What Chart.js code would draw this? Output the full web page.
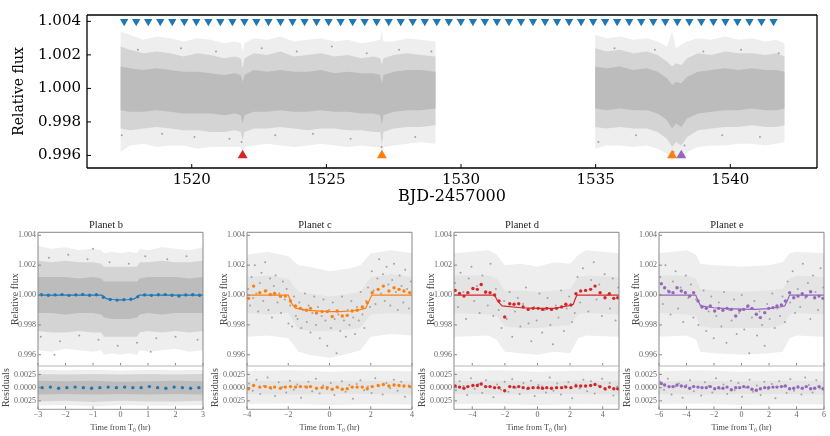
<!DOCTYPE html>
<html><head><meta charset="utf-8">
<script src="https://cdn.jsdelivr.net/npm/chart.js@4.4.1/dist/chart.umd.min.js"></script>
<style>
html,body{margin:0;padding:0;background:#fff;}
#wrap{position:relative;width:830px;height:436px;overflow:hidden;background:#fff;}
#wrap canvas{position:absolute;left:0;top:0;}
</style></head><body><div id="wrap">
<canvas id="cTop" width="830" height="436"></canvas>
<canvas id="cBm" width="830" height="436"></canvas><canvas id="cBr" width="830" height="436"></canvas>
<canvas id="cCm" width="830" height="436"></canvas><canvas id="cCr" width="830" height="436"></canvas>
<canvas id="cDm" width="830" height="436"></canvas><canvas id="cDr" width="830" height="436"></canvas>
<canvas id="cEm" width="830" height="436"></canvas><canvas id="cEr" width="830" height="436"></canvas>
</div>
<script>
// ---------------- DATA ----------------
const topXTicks = [1520,1525,1530,1535,1540];
const topYTicks = [0.996,0.998,1.000,1.002,1.004];
const transitsB = [1517.490,1517.937,1518.383,1518.830,1519.276,1519.723,1520.169,1520.616,1521.063,1521.509,1521.956,1522.402,1522.849,1523.295,1523.742,1524.189,1524.635,1525.082,1525.528,1525.975,1526.421,1526.868,1527.315,1527.761,1528.208,1528.654,1529.101,1529.547,1529.994,1530.441,1530.887,1531.334,1531.780,1532.227,1532.673,1533.120,1533.567,1534.013,1534.460,1534.906,1535.353,1535.799,1536.246,1536.693,1537.139,1537.586,1538.032,1538.479,1538.925,1539.372,1539.818,1540.265,1540.712,1541.158,1541.605];
const transitsC = [1527.06,1537.84];
const transitsD = [1521.89];
const transitsE = [1538.18];

// light-curve envelopes, orbit 1
const s1X = [1517.35,1517.7,1518.2,1518.7,1519.2,1519.7,1520.2,1520.7,1521.2,1521.6,1521.82,1521.89,1521.96,1522.3,1522.8,1523.3,1523.8,1524.3,1524.8,1525.3,1525.8,1526.3,1526.75,1527.0,1527.06,1527.12,1527.5,1528.0,1528.5,1529.06];
const s1HazeHi = [1.0034,1.0032,1.0029,1.0031,1.0030,1.0028,1.0030,1.0029,1.0027,1.0028,1.0027,1.0022,1.0027,1.0030,1.0029,1.0031,1.0028,1.0029,1.0030,1.0028,1.0029,1.0027,1.0028,1.0029,1.0035,1.0028,1.0028,1.0030,1.0029,1.0028];
const s1PtsHi = [1.0025,1.0023,1.0021,1.0022,1.0021,1.0019,1.0021,1.0020,1.0018,1.0019,1.0018,1.0012,1.0018,1.0021,1.0020,1.0022,1.0019,1.0020,1.0021,1.0019,1.0020,1.0018,1.0019,1.0018,1.0014,1.0018,1.0020,1.0021,1.0020,1.0019];
const s1CoreHi = [1.0013,1.0012,1.0011,1.0012,1.0011,1.0010,1.0010,1.0009,1.0008,1.0009,1.0008,1.0004,1.0008,1.0011,1.0010,1.0011,1.0010,1.0010,1.0011,1.0009,1.0010,1.0009,1.0009,1.0008,1.0003,1.0008,1.0010,1.0011,1.0011,1.0010];
const s1CoreLo = [0.9987,0.9986,0.9986,0.9987,0.9986,0.9985,0.9985,0.9985,0.9984,0.9985,0.9984,0.9979,0.9984,0.9986,0.9986,0.9987,0.9986,0.9986,0.9987,0.9986,0.9986,0.9985,0.9985,0.9984,0.9978,0.9984,0.9986,0.9987,0.9987,0.9988];
const s1PtsLo = [0.9976,0.9975,0.9976,0.9977,0.9976,0.9975,0.9975,0.9974,0.9974,0.9975,0.9974,0.9969,0.9974,0.9976,0.9976,0.9977,0.9976,0.9975,0.9976,0.9976,0.9975,0.9975,0.9974,0.9974,0.9966,0.9974,0.9976,0.9977,0.9977,0.9978];
const s1HazeLo = [0.9962,0.9966,0.9967,0.9965,0.9966,0.9966,0.9964,0.9965,0.9965,0.9965,0.9965,0.9961,0.9965,0.9966,0.9967,0.9966,0.9965,0.9966,0.9967,0.9966,0.9965,0.9966,0.9965,0.9965,0.9958,0.9965,0.9966,0.9967,0.9968,0.9967];
// orbit 2
const s2X = [1534.98,1535.4,1535.9,1536.4,1536.9,1537.3,1537.65,1537.84,1537.98,1538.18,1538.4,1538.8,1539.3,1539.8,1540.3,1540.8,1541.3,1541.7,1542.02];
const s2HazeHi = [1.0032,1.0030,1.0031,1.0029,1.0030,1.0028,1.0025,1.0034,1.0024,1.0026,1.0028,1.0030,1.0029,1.0031,1.0029,1.0030,1.0028,1.0029,1.0027];
const s2PtsHi = [1.0024,1.0022,1.0023,1.0021,1.0022,1.0020,1.0016,1.0013,1.0015,1.0014,1.0018,1.0021,1.0020,1.0022,1.0021,1.0021,1.0020,1.0021,1.0019];
const s2CoreHi = [1.0013,1.0012,1.0013,1.0011,1.0012,1.0010,1.0006,1.0002,1.0004,1.0003,1.0007,1.0010,1.0011,1.0012,1.0011,1.0012,1.0011,1.0011,1.0010];
const s2CoreLo = [0.9988,0.9987,0.9988,0.9987,0.9987,0.9985,0.9981,0.9976,0.9979,0.9977,0.9982,0.9985,0.9986,0.9987,0.9987,0.9988,0.9987,0.9987,0.9988];
const s2PtsLo = [0.9977,0.9976,0.9977,0.9976,0.9976,0.9974,0.9970,0.9965,0.9968,0.9966,0.9971,0.9975,0.9976,0.9977,0.9977,0.9978,0.9977,0.9977,0.9978];
const s2HazeLo = [0.9964,0.9966,0.9966,0.9965,0.9966,0.9964,0.9961,0.9957,0.9960,0.9958,0.9962,0.9965,0.9966,0.9966,0.9967,0.9967,0.9966,0.9967,0.9968];
const topOutliers = [[1517.4,0.9972],[1518.0,1.0023],[1518.9,0.9973],[1519.6,1.0024],[1520.1,0.9971],[1520.9,1.0022],[1521.4,0.9970],[1521.85,0.9968],[1522.6,1.0024],[1523.1,0.9972],[1523.9,1.0022],[1524.5,0.9973],[1525.2,1.0025],[1525.9,0.9970],[1526.5,1.0021],[1527.05,0.9965],[1527.7,1.0023],[1528.3,0.9971],[1528.9,1.0022],[1535.1,0.9968],[1535.7,1.0024],[1536.5,0.9972],[1537.2,1.0023],[1537.9,0.9962],[1538.3,0.9966],[1539.0,1.0022],[1539.7,0.9972],[1540.4,1.0023],[1541.1,0.9971],[1541.8,1.0021]];

// phase-folded panels
const mainYTicks = [0.996,0.998,1.000,1.002,1.004];
const resYTicks = [-0.0025,0,0.0025];
// planet b
const bXTicks = [-3,-2,-1,0,1,2,3];
const bT = [-3,-2.5,-2,-1.5,-1,-0.7,-0.6,-0.3,0,0.3,0.6,0.7,1,1.5,2,2.5,3];
const bHazeHi = [1.0033,1.0031,1.0032,1.0030,1.0031,1.0030,1.0028,1.0029,1.0028,1.0029,1.0028,1.0031,1.0030,1.0032,1.0031,1.0030,1.0032];
const bPtsHi = [1.0023,1.0022,1.0023,1.0022,1.0022,1.0021,1.0019,1.0019,1.0019,1.0019,1.0019,1.0022,1.0022,1.0023,1.0022,1.0022,1.0023];
const bCoreHi = [1.0012,1.0012,1.0012,1.0011,1.0012,1.0011,1.0009,1.0009,1.0009,1.0009,1.0009,1.0011,1.0012,1.0012,1.0012,1.0011,1.0012];
const bCoreLo = [0.9988,0.9988,0.9987,0.9988,0.9988,0.9987,0.9985,0.9984,0.9984,0.9984,0.9985,0.9987,0.9988,0.9987,0.9988,0.9988,0.9988];
const bPtsLo = [0.9976,0.9975,0.9975,0.9976,0.9975,0.9975,0.9972,0.9972,0.9972,0.9972,0.9972,0.9975,0.9976,0.9975,0.9976,0.9975,0.9976];
const bHazeLo = [0.9963,0.9962,0.9964,0.9963,0.9962,0.9963,0.9960,0.9961,0.9960,0.9961,0.9960,0.9963,0.9962,0.9963,0.9964,0.9962,0.9963];
const bOutliers = [[-2.9,0.9972],[-2.6,1.0025],[-2.2,0.9969],[-1.9,1.0027],[-1.5,0.9973],[-1.2,1.0024],[-0.8,0.9970],[-0.4,1.0022],[-0.1,0.9966],[0.3,1.0021],[0.6,0.9968],[0.9,1.0026],[1.3,0.9971],[1.7,1.0024],[2.0,0.9972],[2.4,1.0026],[2.8,0.9970],[-2.4,0.9960],[1.1,0.9962],[-1.0,1.0031]];
const bModT = [-3,-0.68,-0.5,-0.3,0,0.3,0.5,0.68,3];
const bModF = [1,1,0.99974,0.99970,0.99968,0.99970,0.99974,1,1];
const bBinT = [-2.875,-2.625,-2.375,-2.125,-1.875,-1.625,-1.375,-1.125,-0.875,-0.625,-0.375,-0.125,0.125,0.375,0.625,0.875,1.125,1.375,1.625,1.875,2.125,2.375,2.625,2.875];
const bBinF = [1.00002,0.99999,1.00001,1.00003,0.99998,1.00001,1.00004,0.99999,1.00002,0.99985,0.99970,0.99966,0.99969,0.99972,0.99988,1.00001,0.99998,1.00002,1.00003,0.99999,0.99994,1.00001,1.00002,0.99999];
const bRT = [-3,-2,-1,0,1,2,3];
const bRHazeHi = [0.0034,0.0033,0.0034,0.0032,0.0034,0.0033,0.0034];
const bRPtsHi = [0.0026,0.0025,0.0026,0.0025,0.0026,0.0025,0.0026];
const bRCoreHi = [0.0013,0.0012,0.0013,0.0011,0.0012,0.0013,0.0012];
const bRCoreLo = [-0.0013,-0.0012,-0.0013,-0.0012,-0.0013,-0.0012,-0.0013];
const bRPtsLo = [-0.0026,-0.0025,-0.0027,-0.0025,-0.0026,-0.0026,-0.0025];
const bRHazeLo = [-0.0034,-0.0033,-0.0035,-0.0033,-0.0034,-0.0034,-0.0033];
const bRBinT = [-2.85,-2.55,-2.25,-1.95,-1.65,-1.35,-1.05,-0.75,-0.45,-0.15,0.15,0.45,0.75,1.05,1.35,1.65,1.95,2.25,2.55,2.85];
const bRBinR = [0.0000,0.0001,-0.0001,0.0000,0.0001,0.0000,-0.0001,0.0000,0.0001,0.0000,0.0001,0.0000,0.0000,0.0002,0.0000,-0.0001,0.0001,0.0000,-0.0001,0.0000];

// planet c
const cXTicks = [-4,-2,0,2,4];
const cPts = [[-3.95,1.0004],[-3.85,0.9993],[-3.78,1.0012],[-3.70,0.9998],[-3.62,1.0020],[-3.55,1.0001],[-3.46,0.9989],[-3.38,1.0008],[-3.30,1.0015],[-3.21,0.9996],[-3.12,1.0022],[-3.05,1.0003],[-2.96,0.9990],[-2.88,1.0011],[-2.79,0.9985],[-2.70,1.0006],[-2.61,1.0013],[-2.52,0.9995],[-2.44,1.0001],[-2.35,0.9988],[-2.26,1.0009],[-2.17,0.9997],[-2.08,1.0004],[-1.99,0.9981],[-1.90,0.9993],[-1.81,0.9979],[-1.72,0.9999],[-1.63,0.9986],[-1.55,0.9984],[-1.46,0.9995],[-1.37,0.9978],[-1.28,0.9990],[-1.19,1.0001],[-1.10,0.9982],[-1.01,0.9993],[-0.92,0.9975],[-0.83,0.9988],[-0.74,0.9999],[-0.65,0.9980],[-0.56,0.9992],[-0.47,0.9971],[-0.38,0.9986],[-0.29,0.9997],[-0.20,0.9983],[-0.11,0.9966],[-0.02,0.9990],[0.07,0.9978],[0.16,0.9995],[0.25,0.9984],[0.34,0.9961],[0.43,0.9987],[0.52,0.9976],[0.61,0.9999],[0.70,0.9983],[0.79,0.9972],[0.88,0.9990],[0.97,0.9980],[1.06,0.9996],[1.15,0.9985],[1.24,0.9974],[1.33,0.9992],[1.42,0.9983],[1.51,1.0002],[1.60,0.9987],[1.69,0.9978],[1.78,0.9996],[1.87,1.0005],[1.96,0.9992],[2.05,1.0016],[2.14,1.0003],[2.23,0.9994],[2.32,1.0011],[2.41,1.0024],[2.50,1.0001],[2.59,1.0014],[2.68,0.9996],[2.77,1.0019],[2.86,1.0007],[2.95,0.9993],[3.04,1.0010],[3.13,1.0021],[3.22,1.0002],[3.31,0.9990],[3.40,1.0013],[3.49,1.0006],[3.58,0.9995],[3.67,1.0017],[3.76,1.0004],[3.85,0.9991],[3.94,1.0009]];
const cHT = [-4,-3,-2,-1.5,-1,0,1,1.5,2,3,4];
const cHazeHi = [1.0027,1.0029,1.0026,1.0020,1.0019,1.0016,1.0018,1.0020,1.0028,1.0030,1.0028];
const cHazeLo = [0.9972,0.9973,0.9971,0.9962,0.9960,0.9958,0.9961,0.9963,0.9972,0.9974,0.9973];
const cMidHi = [1.0012,1.0013,1.0011,1.0002,1.0001,0.9999,1.0001,1.0002,1.0012,1.0014,1.0012];
const cMidLo = [0.9988,0.9987,0.9988,0.9977,0.9976,0.9976,0.9977,0.9978,0.9987,0.9988,0.9987];
const cModT = [-4,-2.0,-1.85,-1.65,-1.0,0,0.5,1.0,1.5,1.75,1.9,2.05,4];
const cModF = [1,1,0.99945,0.99912,0.99898,0.99889,0.99889,0.99893,0.99902,0.99912,0.99955,1,1];
const cBinT = [-3.92,-3.68,-3.38,-3.11,-2.87,-2.66,-2.38,-2.14,-1.89,-1.65,-1.41,-1.12,-0.92,-0.63,-0.36,-0.11,0.13,0.37,0.62,0.86,1.1,1.34,1.59,1.83,2.07,2.36,2.61,2.88,3.13,3.37,3.61,3.89];
const cBinF = [0.99978,1.0006,1.00016,1.00027,1.00004,1.0001,0.99991,0.99993,0.9996,0.99927,0.99911,0.99898,0.99911,0.9988,0.99889,0.99889,0.99856,0.99893,0.9986,0.99864,0.99893,0.99898,0.9992,0.99949,1.00016,1.00038,1.0006,1.00027,1.00049,1.00038,1.00027,1.00016];
const cRes = [[-3.9,0.0008],[-3.72,-0.0006],[-3.54,0.0015],[-3.36,-0.0012],[-3.18,0.0003],[-3.0,0.0019],[-2.82,-0.0002],[-2.64,-0.0016],[-2.46,0.0010],[-2.28,0.0001],[-2.1,-0.0009],[-1.92,0.0013],[-1.74,-0.0004],[-1.56,0.0006],[-1.38,-0.0019],[-1.2,0.0002],[-1.02,0.0011],[-0.84,-0.0007],[-0.66,0.0017],[-0.48,-0.0011],[-0.3,0.0004],[-0.12,-0.0003],[0.06,0.0009],[0.24,-0.0014],[0.42,0.0000],[0.6,0.0012],[0.78,-0.0008],[0.96,0.0005],[1.14,-0.0021],[1.32,0.0007],[1.5,0.0014],[1.68,-0.0005],[1.86,0.0002],[2.04,-0.0010],[2.22,0.0018],[2.4,0.0003],[2.58,-0.0013],[2.76,0.0009],[2.94,-0.0001],[3.12,0.0015],[3.3,-0.0006],[3.48,0.0011],[3.66,-0.0017],[3.84,0.0004]];
const cRBinR = [-0.0002,0.0004,0.0001,0.0002,0.0000,0.0001,-0.0001,0.0001,0.0002,0.0001,0.0002,0.0001,0.0002,-0.0001,0.0000,0.0000,-0.0003,0.0001,-0.0003,-0.0002,0.0001,0.0001,0.0001,-0.0002,0.0002,0.0004,0.0006,0.0003,0.0005,0.0004,0.0003,0.0002];
const cRHT = [-4,-2,0,2,4];

// planet d
const dXTicks = [-4,-2,0,2,4];
const dPts = [[-5.05,1.0008],[-4.88,0.9992],[-4.72,1.0015],[-4.55,1.0002],[-4.38,0.9984],[-4.21,1.0011],[-4.05,1.0019],[-3.88,0.9996],[-3.71,1.0006],[-3.55,0.9988],[-3.38,1.0013],[-3.21,1.0001],[-3.05,0.9993],[-2.88,1.0021],[-2.71,0.9986],[-2.55,1.0004],[-2.38,0.9990],[-2.21,0.9978],[-2.05,0.9996],[-1.88,0.9984],[-1.71,1.0002],[-1.55,0.9972],[-1.38,0.9989],[-1.21,0.9998],[-1.05,0.9979],[-0.88,0.9994],[-0.71,1.0005],[-0.55,0.9981],[-0.38,0.9969],[-0.21,0.9992],[-0.05,0.9983],[0.12,1.0001],[0.29,0.9975],[0.45,0.9990],[0.62,0.9998],[0.79,0.9980],[0.95,0.9967],[1.12,0.9993],[1.29,0.9985],[1.45,1.0003],[1.62,0.9976],[1.79,0.9991],[1.95,0.9999],[2.12,0.9982],[2.29,0.9988],[2.45,1.0012],[2.62,0.9995],[2.79,1.0018],[2.95,1.0003],[3.12,0.9989],[3.29,1.0010],[3.45,1.0022],[3.62,0.9997],[3.79,1.0007],[3.95,0.9986],[4.12,1.0014],[4.29,1.0000],[4.45,0.9991],[4.62,1.0011],[4.79,0.9983],[4.95,1.0005]];
const dHT = [-5.12,-3,-2.5,-2,-1,0,1,2,2.5,3,5];
const dHazeHi = [1.0028,1.0030,1.0027,1.0020,1.0021,1.0019,1.0022,1.0021,1.0027,1.0030,1.0028];
const dHazeLo = [0.9972,0.9973,0.9970,0.9962,0.9961,0.9960,0.9962,0.9961,0.9971,0.9973,0.9972];
const dMidHi = [1.0013,1.0013,1.0011,1.0003,1.0003,1.0002,1.0003,1.0004,1.0012,1.0013,1.0012];
const dMidLo = [0.9988,0.9987,0.9986,0.9979,0.9978,0.9978,0.9979,0.9980,0.9987,0.9988,0.9987];
const dModT = [-5.12,-2.63,-2.45,-2.17,-1.0,0,1.0,2.0,2.2,2.3,2.42,5.0];
const dModF = [1,1,0.9996,0.99927,0.99915,0.99911,0.99911,0.9993,0.99938,0.9997,1,1];
const dBinT = [-5.05,-4.78,-4.51,-4.27,-3.96,-3.69,-3.45,-3.18,-2.91,-2.63,-2.36,-2.01,-1.70,-1.44,-1.15,-0.88,-0.57,-0.27,0.04,0.31,0.57,0.86,1.17,1.48,1.74,2.05,2.36,2.65,2.95,3.26,3.53,3.84,4.14,4.41,4.68,4.92];
const dBinF = [1.00031,1.00011,0.99993,1.00016,1.00044,1.00038,1.00071,1.0002,1.00016,1.0,0.9996,0.99853,0.99942,0.99938,0.99942,0.9992,0.99904,0.99911,0.99911,0.99904,0.99911,0.99904,0.99911,0.9992,0.99938,0.99933,1.00009,1.00027,1.00031,1.00038,1.0006,1.00016,0.99982,1.00009,0.99978,0.99982];
const dRes = [[-5.0,-0.0005],[-4.77,0.0012],[-4.54,0.0003],[-4.31,-0.0014],[-4.08,0.0018],[-3.85,-0.0002],[-3.62,0.0007],[-3.39,-0.0010],[-3.16,0.0014],[-2.93,0.0001],[-2.7,-0.0018],[-2.47,0.0006],[-2.24,-0.0004],[-2.01,0.0011],[-1.78,-0.0008],[-1.55,0.0016],[-1.32,0.0000],[-1.09,-0.0012],[-0.86,0.0009],[-0.63,-0.0003],[-0.4,0.0013],[-0.17,-0.0016],[0.06,0.0005],[0.29,0.0002],[0.52,-0.0009],[0.75,0.0019],[0.98,-0.0006],[1.21,0.0008],[1.44,-0.0013],[1.67,0.0003],[1.9,0.0010],[2.13,-0.0020],[2.36,0.0006],[2.59,-0.0001],[2.82,0.0015],[3.05,-0.0007],[3.28,0.0012],[3.51,-0.0011],[3.74,0.0004],[3.97,0.0017],[4.2,-0.0004],[4.43,0.0009],[4.66,-0.0015],[4.89,0.0002]];
const dRBinR = [0.0003,0.0001,-0.0001,0.0002,0.0004,0.0004,0.0007,0.0002,0.0002,0.0000,0.0000,-0.0006,0.0002,0.0001,0.0002,0.0000,-0.0001,0.0000,0.0000,-0.0001,0.0000,-0.0001,0.0000,0.0000,0.0001,0.0000,0.0003,0.0003,0.0003,0.0004,0.0006,0.0002,-0.0002,0.0001,-0.0002,-0.0002];
const dRHT = [-5.12,-2.5,0,2.5,5];

// planet e
const eXTicks = [-6,-4,-2,0,2,4,6];
const ePts = [[-5.9,1.0012],[-5.72,0.9994],[-5.53,1.0020],[-5.35,1.0003],[-5.16,0.9987],[-4.98,1.0009],[-4.79,1.0016],[-4.61,0.9991],[-4.42,1.0005],[-4.24,0.9982],[-4.05,1.0013],[-3.87,0.9998],[-3.68,1.0007],[-3.5,0.9985],[-3.31,0.9997],[-3.13,0.9980],[-2.94,0.9993],[-2.76,1.0003],[-2.57,0.9976],[-2.39,0.9989],[-2.2,0.9999],[-2.02,0.9971],[-1.83,0.9986],[-1.65,0.9995],[-1.46,0.9979],[-1.28,1.0002],[-1.09,0.9968],[-0.91,0.9990],[-0.72,0.9983],[-0.54,0.9997],[-0.35,0.9974],[-0.17,0.9988],[0.02,1.0000],[0.2,0.9977],[0.39,0.9992],[0.57,0.9961],[0.76,0.9985],[0.94,0.9996],[1.13,0.9973],[1.31,0.9989],[1.5,0.9980],[1.68,0.9966],[1.87,0.9994],[2.05,0.9984],[2.24,1.0001],[2.42,0.9978],[2.61,0.9991],[2.79,0.9986],[2.98,0.9999],[3.16,0.9982],[3.35,1.0009],[3.53,0.9995],[3.72,1.0016],[3.9,0.9988],[4.09,1.0004],[4.27,0.9992],[4.46,1.0021],[4.64,0.9998],[4.83,1.0008],[5.01,0.9984],[5.2,1.0013],[5.38,1.0002],[5.57,0.9990],[5.75,1.0018],[5.94,1.0005]];
const eHT = [-6,-4,-3.3,-3,-2,0,2,3,3.5,4,6];
const eHazeHi = [1.0028,1.0030,1.0027,1.0021,1.0020,1.0019,1.0020,1.0022,1.0028,1.0029,1.0028];
const eHazeLo = [0.9972,0.9973,0.9970,0.9962,0.9961,0.9960,0.9961,0.9962,0.9971,0.9973,0.9972];
const eMidHi = [1.0013,1.0013,1.0011,1.0004,1.0003,1.0002,1.0003,1.0004,1.0011,1.0013,1.0012];
const eMidLo = [0.9988,0.9987,0.9986,0.9979,0.9978,0.9978,0.9978,0.9980,0.9987,0.9988,0.9987];
const eModT = [-6,-3.33,-3.15,-2.97,-2,-1,0,1,2,2.8,3.14,3.32,3.5,6];
const eModF = [1,1,0.9996,0.99927,0.99915,0.99909,0.99906,0.99904,0.99909,0.9992,0.99927,0.9996,1,1];
const eBinT = [-5.83,-5.59,-5.27,-4.98,-4.69,-4.38,-4.08,-3.77,-3.48,-3.16,-2.87,-2.56,-2.27,-1.95,-1.66,-1.35,-1.05,-0.74,-0.42,-0.13,0.16,0.47,0.76,1.08,1.37,1.69,1.98,2.29,2.58,2.9,3.19,3.5,3.8,4.11,4.42,4.71,5.03,5.32,5.64,5.93];
const eBinF = [1.00076,1.00049,1.00022,1.00016,1.00049,1.00027,1.00016,0.99993,1.00016,0.9996,0.9992,0.99911,0.99927,0.99893,0.99911,0.99898,0.99911,0.99904,0.9986,0.99898,0.99904,0.99927,0.99911,0.99871,0.99849,0.99882,0.99911,0.99916,0.99927,0.99933,0.9996,1.00016,0.99982,0.99993,1.00009,0.99993,1.00022,0.99982,0.99993,0.99978];
const eRes = [[-5.9,0.0011],[-5.63,-0.0004],[-5.36,0.0017],[-5.09,-0.0013],[-4.82,0.0002],[-4.55,0.0008],[-4.28,-0.0019],[-4.01,0.0005],[-3.74,0.0014],[-3.47,-0.0007],[-3.2,0.0001],[-2.93,-0.0015],[-2.66,0.0010],[-2.39,0.0003],[-2.12,-0.0009],[-1.85,0.0018],[-1.58,-0.0002],[-1.31,0.0006],[-1.04,-0.0012],[-0.77,0.0013],[-0.5,-0.0005],[-0.23,0.0009],[0.04,-0.0017],[0.31,0.0000],[0.58,0.0015],[0.85,-0.0008],[1.12,0.0004],[1.39,-0.0014],[1.66,0.0011],[1.93,-0.0003],[2.2,0.0007],[2.47,-0.0020],[2.74,0.0012],[3.01,0.0002],[3.28,-0.0010],[3.55,0.0016],[3.82,-0.0006],[4.09,0.0003],[4.36,-0.0013],[4.63,0.0019],[4.9,0.0005],[5.17,-0.0009],[5.44,0.0014],[5.71,-0.0001]];
const eRBinR = [0.0008,0.0005,0.0002,0.0002,0.0005,0.0003,0.0002,-0.0001,0.0002,0.0001,0.0000,0.0000,0.0002,-0.0002,0.0000,-0.0001,0.0001,-0.0004,0.0000,0.0000,0.0002,0.0001,-0.0003,-0.0005,-0.0002,0.0000,0.0000,0.0001,0.0001,0.0002,0.0003,-0.0002,-0.0001,0.0001,-0.0001,0.0002,-0.0002,-0.0001,0.0002,-0.0002];
const eRHT = [-6,-3,0,3,6];
const resHazeHi = [0.0031,0.0033,0.0030,0.0032,0.0031];
const resHazeLo = [-0.0031,-0.0030,-0.0033,-0.0031,-0.0032];
const resMidHi = [0.0012,0.0013,0.0012,0.0013,0.0012];
const resMidLo = [-0.0012,-0.0013,-0.0012,-0.0012,-0.0013];

// ---------------- HELPERS ----------------
const FT = 'DejaVu Serif';
const FB = 'Liberation Serif';
const CLR = {b:'#1f77b4', c:'#ff7f0e', d:'#d62728', e:'#9467bd'};
const GRAY_PT = '#a2a2a2', HAZE = '#eeeeee', PTSBAND = '#d4d4d4', CORE = '#bcbcbc', MID = '#e4e4e4';
const NONE = 'rgba(0,0,0,0)';

const xy = (xs, ys) => xs.map((x, i) => ({x, y: ys[i]}));
const pr = a => a.map(p => ({x: p[0], y: p[1]}));

function band(list, xs, lo, hi, color, order) {
  list.push({data: xy(xs, lo), borderColor: NONE, borderWidth: 0, pointRadius: 0, fill: false, order});
  list.push({data: xy(xs, hi), borderColor: NONE, borderWidth: 0, pointRadius: 0, fill: '-1', backgroundColor: color, order});
}
function dots(list, data, color, r, order, style, rot) {
  list.push({data, showLine: false, pointRadius: r, pointBackgroundColor: color, pointBorderWidth: 0,
    pointBorderColor: NONE, borderColor: NONE, pointStyle: style || 'circle', pointRotation: rot || 0, order});
}
function curve(list, data, color, w, order) {
  list.push({data, borderColor: color, borderWidth: w, pointRadius: 0, fill: false, order});
}

const framePlugin = {
  id: 'frame',
  afterDatasetsDraw(chart, args, o) {
    const {ctx, chartArea: a, scales} = chart;
    ctx.save();
    ctx.lineWidth = o.tickWidth; ctx.strokeStyle = o.tickColor;
    ctx.beginPath();
    if (o.xTicks) scales.x.ticks.forEach(t => { const p = scales.x.getPixelForValue(t.value); ctx.moveTo(p, a.bottom); ctx.lineTo(p, a.bottom - o.tickLen); });
    if (o.yTicks) scales.y.ticks.forEach(t => { const p = scales.y.getPixelForValue(t.value); ctx.moveTo(a.left, p); ctx.lineTo(a.left + o.tickLen, p); });
    ctx.stroke();
    ctx.lineWidth = o.width;
    const L = a.left, R = a.right, T = a.top, B = a.bottom, s = o.sides;
    const seg = (x1, y1, x2, y2, c) => { if (!c) return; ctx.strokeStyle = c; ctx.beginPath(); ctx.moveTo(x1, y1); ctx.lineTo(x2, y2); ctx.stroke(); };
    seg(L, T, R, T, s.top); seg(L, B, R, B, s.bottom); seg(L, T, L, B, s.left); seg(R, T, R, B, s.right);
    ctx.restore();
  }
};

function makeChart(id, datasets, o) {
  const a = o.area;
  const titleH = o.title ? 13 : 0;
  return new Chart(document.getElementById(id), {
    type: 'line',
    data: {datasets},
    options: {
      responsive: false, animation: false, events: [],
      layout: {padding: {left: a.l - o.yW, top: a.t - titleH, right: 830 - a.r, bottom: 436 - a.b - o.xH}},
      plugins: {
        legend: {display: false}, tooltip: {enabled: false}, colors: {enabled: false},
        title: o.title ? {display: true, text: o.title, padding: {top: 0, bottom: 1}, color: '#222', font: {family: FB, size: 10.5, weight: 'normal'}} : {display: false},
        frame: o.frame
      },
      scales: {
        x: {
          type: 'linear', min: o.xmin, max: o.xmax,
          afterBuildTicks: s => { s.ticks = o.xticks.map(v => ({value: v})); },
          afterFit: s => { s.height = o.xH; },
          grid: {display: false, drawTicks: false}, border: {display: false},
          ticks: {display: o.xLabels, autoSkip: false, maxRotation: 0, minRotation: 0, padding: o.xPad, color: o.tickColor,
                  font: {family: o.font, size: o.tickSize}, callback: o.xfmt},
          title: {display: !!o.xTitle, text: o.xTitle || '', padding: 0, color: o.titleColor, font: {family: o.font, size: o.xTitleSize}}
        },
        y: {
          type: 'linear', min: o.ymin, max: o.ymax,
          afterBuildTicks: s => { s.ticks = o.yticks.map(v => ({value: v})); },
          afterFit: s => { s.width = o.yW; },
          grid: {display: false, drawTicks: false}, border: {display: false},
          ticks: {autoSkip: false, padding: o.yPad, color: o.tickColor, font: {family: o.font, size: o.tickSize}, callback: o.yfmt},
          title: {display: true, text: o.yTitle, padding: 0, color: o.titleColor, font: {family: o.font, size: o.yTitleSize}}
        }
      }
    },
    plugins: [framePlugin]
  });
}

const minusFmt = v => (v < 0 ? '\u2212' + Math.abs(v) : String(v));

// ---------------- TOP PANEL ----------------
(function () {
  const ds = [];
  dots(ds, transitsB.map(x => ({x, y: 1.004})), CLR.b, 4.8, 0, 'triangle', 180);
  dots(ds, transitsD.map(x => ({x, y: 0.996})), CLR.d, 5.8, 0, 'triangle', 0);
  dots(ds, transitsC.map(x => ({x, y: 0.996})), CLR.c, 5.8, 0, 'triangle', 0);
  dots(ds, transitsE.map(x => ({x, y: 0.996})), CLR.e, 5.8, 0, 'triangle', 0);
  dots(ds, pr(topOutliers), GRAY_PT, 1, 3);
  band(ds, s1X, s1CoreLo, s1CoreHi, CORE, 6);
  band(ds, s2X, s2CoreLo, s2CoreHi, CORE, 6);
  band(ds, s1X, s1PtsLo, s1PtsHi, PTSBAND, 7);
  band(ds, s2X, s2PtsLo, s2PtsHi, PTSBAND, 7);
  band(ds, s1X, s1HazeLo, s1HazeHi, HAZE, 8);
  band(ds, s2X, s2HazeLo, s2HazeHi, HAZE, 8);
  makeChart('cTop', ds, {
    area: {l: 87, t: 11, r: 817, b: 168}, yW: 76, xH: 38.6,
    xmin: 1516.11, xmax: 1543.22, ymin: 0.99525, ymax: 1.00438,
    xticks: topXTicks, yticks: topYTicks, xLabels: true, xPad: 3, yPad: 6,
    font: FT, tickSize: 15, tickColor: '#000', titleColor: '#000',
    xTitle: 'BJD-2457000', xTitleSize: 16, yTitle: 'Relative flux', yTitleSize: 14,
    xfmt: v => String(v), yfmt: v => v.toFixed(3),
    frame: {tickWidth: 1, tickColor: '#000', tickLen: 4, xTicks: true, yTicks: true, width: 1.3,
            sides: {top: '#000', bottom: '#000', left: '#000', right: '#000'}}
  });
})();

// ---------------- PHASE-FOLDED PANELS ----------------
const PW = 165, MT = 231.7, MB = 366, RB = 409.3;
const mainFrame = {tickWidth: 1, tickColor: '#888', tickLen: 3, xTicks: true, yTicks: true, width: 1,
                   sides: {top: '#888', bottom: '#cfcfcf', left: '#888', right: '#888'}};
const resFrame = {tickWidth: 1, tickColor: '#888', tickLen: 3, xTicks: true, yTicks: true, width: 1,
                  sides: {top: '#cfcfcf', bottom: '#999', left: '#888', right: '#888'}};

function panel(idM, idR, P) {
  const common = {font: FB, tickSize: 8, tickColor: '#666', titleColor: '#444', yTitleSize: 10, xTitleSize: 8.3,
                  xmin: P.xmin, xmax: P.xmax, xticks: P.xticks, xfmt: minusFmt};
  makeChart(idM, P.main, Object.assign({}, common, {
    area: {l: P.left, t: MT, r: P.left + PW, b: MB}, yW: 29, xH: 0, title: P.title,
    ymin: 0.99525, ymax: 1.0042, yticks: mainYTicks, xLabels: false, xPad: 0, yPad: 2,
    yTitle: 'Relative flux', yfmt: v => v.toFixed(3), frame: mainFrame
  }));
  makeChart(idR, P.res, Object.assign({}, common, {
    area: {l: P.left, t: MB, r: P.left + PW, b: RB}, yW: 38, xH: 23.5,
    ymin: -0.0041, ymax: 0.0041, yticks: resYTicks, xLabels: true, xPad: 1, yPad: 2,
    yTitle: 'Residuals', xTitle: 'Time from T\u2080 (hr)', yfmt: v => Math.abs(v).toFixed(4), frame: resFrame
  }));
}

// planet b
(function () {
  const m = [], r = [];
  dots(m, xy(bBinT, bBinF), CLR.b, 1.7, 1);
  curve(m, xy(bModT, bModF), CLR.b, 1.2, 2);
  dots(m, pr(bOutliers), GRAY_PT, 1, 4);
  band(m, bT, bCoreLo, bCoreHi, CORE, 6);
  band(m, bT, bPtsLo, bPtsHi, PTSBAND, 7);
  band(m, bT, bHazeLo, bHazeHi, HAZE, 8);
  dots(r, xy(bRBinT, bRBinR), CLR.b, 1.7, 1);
  band(r, bRT, bRCoreLo, bRCoreHi, CORE, 6);
  band(r, bRT, bRPtsLo, bRPtsHi, PTSBAND, 7);
  band(r, bRT, bRHazeLo, bRHazeHi, HAZE, 8);
  panel('cBm', 'cBr', {left: 38, xmin: -3, xmax: 3, xticks: bXTicks, title: 'Planet b', main: m, res: r});
})();

function sparsePanel(idM, idR, P) {
  const m = [], r = [];
  dots(m, xy(P.binT, P.binF), P.color, 1.7, 1);
  curve(m, xy(P.modT, P.modF), P.color, 1.2, 2);
  dots(m, pr(P.pts), GRAY_PT, 1, 4);
  band(m, P.hT, P.mLo, P.mHi, MID, 7);
  band(m, P.hT, P.hLo, P.hHi, HAZE, 8);
  dots(r, xy(P.binT, P.rbin), P.color, 1.7, 1);
  dots(r, pr(P.res), GRAY_PT, 1, 4);
  band(r, P.rhT, resMidLo, resMidHi, MID, 7);
  band(r, P.rhT, resHazeLo, resHazeHi, HAZE, 8);
  panel(idM, idR, {left: P.left, xmin: P.xmin, xmax: P.xmax, xticks: P.xticks, title: P.title, main: m, res: r});
}

sparsePanel('cCm', 'cCr', {left: 247, xmin: -4, xmax: 4, xticks: cXTicks, title: 'Planet c', color: CLR.c,
  binT: cBinT, binF: cBinF, modT: cModT, modF: cModF, pts: cPts, hT: cHT, hLo: cHazeLo, hHi: cHazeHi, mLo: cMidLo, mHi: cMidHi,
  rbin: cRBinR, res: cRes, rhT: cRHT});
sparsePanel('cDm', 'cDr', {left: 454, xmin: -5.12, xmax: 5.0, xticks: dXTicks, title: 'Planet d', color: CLR.d,
  binT: dBinT, binF: dBinF, modT: dModT, modF: dModF, pts: dPts, hT: dHT, hLo: dHazeLo, hHi: dHazeHi, mLo: dMidLo, mHi: dMidHi,
  rbin: dRBinR, res: dRes, rhT: dRHT});
sparsePanel('cEm', 'cEr', {left: 659, xmin: -6, xmax: 6, xticks: eXTicks, title: 'Planet e', color: CLR.e,
  binT: eBinT, binF: eBinF, modT: eModT, modF: eModF, pts: ePts, hT: eHT, hLo: eHazeLo, hHi: eHazeHi, mLo: eMidLo, mHi: eMidHi,
  rbin: eRBinR, res: eRes, rhT: eRHT});
</script>
</body></html>
